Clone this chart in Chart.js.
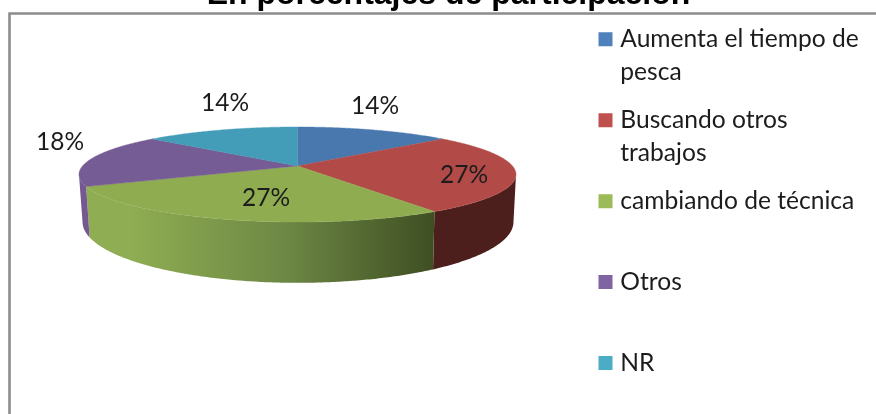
<!DOCTYPE html>
<html><head><meta charset="utf-8">
<style>html,body{margin:0;padding:0;background:#fff;overflow:hidden;width:876px;height:414px}canvas{display:block;margin-top:-40px}</style>
<script src="https://cdn.jsdelivr.net/npm/chart.js@4"></script></head>
<body><canvas id="c" width="897" height="454"></canvas>
<script>
const titleText = 'En porcentajes de participación';
const categories = [['Aumenta el tiempo de','pesca'],['Buscando otros','trabajos'],['cambiando de técnica',''],['Otros',''],['NR','']];
const shares = [13.6, 27.3, 27.3, 18.2, 13.6];
const legendColors = ['#4f81bd','#c0504d','#9bbb59','#8064a2','#4bacc6'];
const faceColors = ['#4878ae','#b24b48','#8fad50','#765c94','#449db8'];
const wallColors = ['#2a4669','#4c1e1c',null,'#75588f','#2a6376'];
const labelAnchors = [[375,106],[464,175],[266,198],[60,142],[225,103]];

const Y = 40; // canvas is shifted up so the title is cut by the page edge
const C = -0.179;
const topPlane = {cx:297.5, k:215, a:16.3, b:166};
const basePlane = {cx:298, k:212, a:21.2, b:211};
function pt(p, ang){
  const u=Math.cos(ang), v=Math.sin(ang), w=1+C*v;
  return [p.cx+p.k*u/w, (p.a*v+p.b)/w+Y];
}
const wallFrom = 10.3*Math.PI/180, wallTo = Math.PI-10.3*Math.PI/180;
function trace(ctx,p,a0,a1,first){
  const n=Math.max(2,Math.ceil(Math.abs(a1-a0)/0.01));
  for(let i=0;i<=n;i++){const q=pt(p,a0+(a1-a0)*i/n); if(i===0&&first)ctx.moveTo(q[0],q[1]); else ctx.lineTo(q[0],q[1]);}
}
const pie3d = {
  id:'pie3d',
  afterLayout(chart){
    const l=chart.legend, dx=588-l.left;
    l.left+=dx; l.right+=dx; l.top=52; l.bottom=454;
  },
  beforeDraw(chart){
    const ctx=chart.ctx; ctx.save();
    ctx.strokeStyle='#8c8c8c'; ctx.lineWidth=2.6;
    ctx.beginPath(); ctx.moveTo(9.5,420+Y); ctx.lineTo(9.5,13.5+Y); ctx.lineTo(900,13.5+Y); ctx.stroke();
    ctx.restore();
  },
  beforeDatasetDraw(chart,args){
    const ctx=chart.ctx, arcs=chart.getDatasetMeta(args.index).data;
    ctx.save();
    const TAU=Math.PI*2;
    arcs.forEach((arc,i)=>{
      let s=arc.startAngle, e=arc.endAngle;
      for(const shift of [0,-TAU,TAU]){
        const a0=Math.max(s+shift,wallFrom), a1=Math.min(e+shift,wallTo);
        if(a1>a0){
          let fill=wallColors[i];
          if(fill===null){
            const g=ctx.createLinearGradient(130,0,433,0);
            g.addColorStop(0,'#8fad52'); g.addColorStop(0.5,'#6e8945'); g.addColorStop(1,'#3f4f22');
            fill=g;
          }
          ctx.fillStyle=fill;
          ctx.beginPath(); trace(ctx,topPlane,a0,a1,true); trace(ctx,basePlane,a1,a0,false); ctx.closePath(); ctx.fill();
        }
      }
    });
    arcs.forEach((arc,i)=>{
      ctx.fillStyle=faceColors[i];
      ctx.strokeStyle=faceColors[i]; ctx.lineWidth=0.4;
      ctx.beginPath(); ctx.moveTo(topPlane.cx,topPlane.b+Y); trace(ctx,topPlane,arc.startAngle,arc.endAngle,false); ctx.closePath(); ctx.fill(); ctx.stroke();
    });
    ctx.fillStyle='#1c1c1c'; ctx.font='24.5px Lato'; ctx.textAlign='center'; ctx.textBaseline='middle';
    shares.forEach((v,i)=>ctx.fillText(Math.round(v)+'%',labelAnchors[i][0],labelAnchors[i][1]+Y));
    ctx.restore();
    return false;
  }
};
new Chart(document.getElementById('c'),{
  type:'pie',
  data:{labels:categories,datasets:[{data:shares,backgroundColor:legendColors,borderWidth:0}]},
  plugins:[pie3d],
  options:{
    responsive:false,animation:false,
    plugins:{
      tooltip:{enabled:false},
      title:{display:true,text:titleText,color:'#000',font:{family:'Liberation Sans',size:32,weight:'bold',lineHeight:1.2},padding:{top:16,bottom:0}},
      legend:{position:'right',align:'start',labels:{usePointStyle:true,pointStyle:'rect',boxWidth:5,boxHeight:14,padding:15,color:'#1c1c1c',font:{family:'Lato',size:24.6,lineHeight:1.34}}}
    }
  }
});
</script></body></html>
